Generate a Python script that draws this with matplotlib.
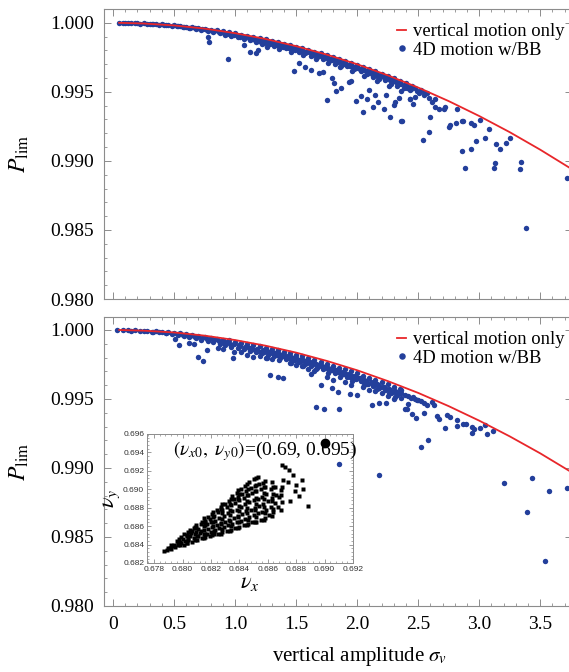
import numpy as np
import matplotlib.pyplot as plt
from matplotlib.ticker import MultipleLocator

plt.rcParams['font.family'] = ['Liberation Serif', 'DejaVu Serif']
plt.rcParams['mathtext.fontset'] = 'stix'

blue = '#233f9b'
red = '#e8262a'

# red curve: vertical motion only
curve_x = [0.05, 0.25, 0.50, 0.75, 1.00, 1.25, 1.50, 1.75, 2.00, 2.25, 2.50, 2.75, 3.00, 3.25, 3.50, 3.77]
top_curve_y = [1.00000, 0.99995, 0.99981, 0.99958, 0.99925, 0.99883, 0.99831, 0.99770,
               0.99700, 0.99620, 0.99531, 0.99433, 0.99325, 0.99208, 0.99081, 0.98934]
bot_curve_y = [1.00000, 0.99995, 0.99982, 0.99959, 0.99927, 0.99886, 0.99836, 0.99776,
               0.99708, 0.99630, 0.99544, 0.99448, 0.99343, 0.99229, 0.99106, 0.98962]

# top panel: 4D motion w/BB
top_x = [0.05, 0.08, 0.10, 0.12, 0.15, 0.18, 0.20, 0.22, 0.25, 0.28, 0.30, 0.32, 0.35, 0.38, 0.40,
         0.42, 0.45, 0.48, 0.50, 0.52, 0.55, 0.58, 0.60, 0.62, 0.65, 0.68, 0.70, 0.72, 0.75, 0.78,
         0.80, 0.82, 0.85, 0.88, 0.90, 0.92, 0.95, 0.97, 1.00, 1.02, 1.05, 1.07, 1.10, 1.12, 1.15,
         1.17, 1.20, 1.22, 1.25, 1.27, 1.30, 1.32, 1.35, 1.37, 1.40, 1.42, 1.45, 1.47, 1.50, 1.52,
         1.55, 1.57, 1.60, 1.62, 1.65, 1.67, 1.70, 1.72, 1.75, 1.77, 1.80, 1.82, 1.85, 1.87, 1.90,
         1.92, 1.95, 1.97, 2.00, 2.03, 2.05, 2.08, 2.10, 2.13, 2.15, 2.18, 2.20, 2.23, 2.25, 2.28,
         2.30, 2.33, 2.35, 2.38, 2.40, 2.43, 2.45,
         0.93, 1.03, 1.13, 1.18, 1.23, 1.28, 1.33, 1.38, 1.43, 1.48, 1.53, 1.58, 1.63, 1.68, 1.73,
         1.78, 1.83, 1.88, 1.93, 1.98, 2.02, 2.07, 2.12, 2.17, 2.22, 2.27, 2.32,
         0.79, 0.78, 0.94, 1.12, 1.17, 1.07, 1.19, 1.48, 1.75, 1.83, 1.79, 1.87, 1.93, 1.95, 1.99,
         2.03, 2.05, 2.08, 2.10, 2.13, 2.15, 2.17, 2.22, 2.24, 2.27, 2.30, 2.31, 2.34, 2.37, 2.43,
         1.69, 1.72, 1.62, 1.52, 1.57, 1.81, 2.41,
         2.36, 2.54, 2.59, 2.60, 2.46, 2.43, 2.47, 2.51, 2.55, 2.59, 2.61, 2.64, 2.64, 2.67, 2.71,
         2.72, 2.82, 2.75, 2.76, 2.81, 2.86, 2.87, 2.93, 2.96, 3.01, 2.86, 2.88, 2.93, 2.97, 3.05,
         3.08, 3.12, 3.13, 3.14, 3.17, 3.22, 3.25, 3.33, 3.34, 3.38, 3.72]
top_y = [1.00000, 1.00000, 0.99999, 0.99998, 0.99999, 0.99996, 0.99997, 0.99994, 0.99995, 0.99992,
         0.99993, 0.99988, 0.99991, 0.99985, 0.99988, 0.99982, 0.99985, 0.99978, 0.99981, 0.99974,
         0.99978, 0.99968, 0.99973, 0.99962, 0.99968, 0.99955, 0.99962, 0.99948, 0.99957, 0.99940,
         0.99951, 0.99932, 0.99945, 0.99925, 0.99938, 0.99915, 0.99930, 0.99905, 0.99924, 0.99895,
         0.99915, 0.99885, 0.99907, 0.99872, 0.99898, 0.99862, 0.99890, 0.99850, 0.99880, 0.99845,
         0.99870, 0.99835, 0.99860, 0.99822, 0.99850, 0.99815, 0.99840, 0.99800, 0.99828, 0.99790,
         0.99815, 0.99780, 0.99805, 0.99760, 0.99792, 0.99755, 0.99780, 0.99740, 0.99765, 0.99720,
         0.99752, 0.99705, 0.99740, 0.99690, 0.99725, 0.99685, 0.99710, 0.99665, 0.99695, 0.99650,
         0.99680, 0.99630, 0.99665, 0.99610, 0.99648, 0.99590, 0.99632, 0.99585, 0.99615, 0.99560,
         0.99598, 0.99540, 0.99580, 0.99530, 0.99563, 0.99510, 0.99545,
         0.99922, 0.99905, 0.99885, 0.99878, 0.99866, 0.99858, 0.99848, 0.99838, 0.99828, 0.99815,
         0.99803, 0.99792, 0.99778, 0.99768, 0.99752, 0.99738, 0.99722, 0.99708, 0.99698, 0.99680,
         0.99668, 0.99648, 0.99630, 0.99610, 0.99605, 0.99585, 0.99568,
         0.99862, 0.99899, 0.99739, 0.99790, 0.99783, 0.99841, 0.99804, 0.99652, 0.99442, 0.99507,
         0.99601, 0.99529, 0.99572, 0.99580, 0.99435, 0.99471, 0.99355, 0.99449, 0.99514, 0.99391,
         0.99478, 0.99428, 0.99377, 0.99478, 0.99319, 0.99406, 0.99428, 0.99457, 0.99290, 0.99449,
         0.99638, 0.99645, 0.99659, 0.99710, 0.99681, 0.99565, 0.99529,
         0.99290, 0.99152, 0.99210, 0.99319, 0.99413, 0.99449, 0.99464, 0.99493, 0.99500, 0.99457,
         0.99428, 0.99449, 0.99391, 0.99377, 0.99377, 0.99391, 0.99377, 0.99246, 0.99261, 0.99275,
         0.99290, 0.99290, 0.99275, 0.99261, 0.99297, 0.99072, 0.98949, 0.99087, 0.99145, 0.99167,
         0.99232, 0.98949, 0.98986, 0.99123, 0.99087, 0.99130, 0.99167, 0.98942, 0.98993, 0.98514,
         0.98877]

# more points of the dense band just under the curve (same x for both panels)
band_x = [0.33, 0.43, 0.53, 0.57, 0.63, 0.67, 0.73, 0.77, 0.83, 0.87,
          0.91, 0.96, 0.99, 1.04, 1.08, 1.11, 1.14, 1.16, 1.19, 1.21,
          1.24, 1.26, 1.29, 1.31, 1.34, 1.36, 1.39, 1.41, 1.44, 1.46,
          1.49, 1.51, 1.54, 1.56, 1.59, 1.61, 1.64, 1.66, 1.69, 1.71,
          1.74, 1.76, 1.79, 1.81, 1.84, 1.86, 1.89, 1.91, 1.94, 1.96,
          1.99, 2.01, 2.04, 2.06, 2.09, 2.11, 2.14, 2.16, 2.19, 2.21,
          2.24, 2.26, 2.29, 2.31, 2.34, 2.36, 2.39, 2.42, 2.44, 2.47,
          2.49, 2.52, 2.55, 2.57, 1.26, 1.36, 1.46, 1.56, 1.66, 1.76,
          1.86, 1.96, 2.06, 2.16, 2.26, 2.36]
top_band_y = [0.99990, 0.99983, 0.99976, 0.99971, 0.99966, 0.99960, 0.99953, 0.99947, 0.99938, 0.99932,
              0.99926, 0.99918, 0.99910, 0.99900, 0.99895, 0.99890, 0.99880, 0.99875, 0.99868, 0.99862,
              0.99856, 0.99862, 0.99850, 0.99852, 0.99838, 0.99840, 0.99828, 0.99832, 0.99818, 0.99822,
              0.99806, 0.99810, 0.99795, 0.99798, 0.99785, 0.99788, 0.99770, 0.99775, 0.99760, 0.99762,
              0.99745, 0.99748, 0.99730, 0.99735, 0.99715, 0.99720, 0.99700, 0.99705, 0.99688, 0.99690,
              0.99670, 0.99675, 0.99655, 0.99660, 0.99640, 0.99645, 0.99622, 0.99628, 0.99605, 0.99612,
              0.99595, 0.99598, 0.99575, 0.99580, 0.99555, 0.99560, 0.99545, 0.99535, 0.99520, 0.99525,
              0.99505, 0.99510, 0.99480, 0.99490, 0.99825, 0.99808, 0.99790, 0.99765, 0.99740, 0.99710,
              0.99680, 0.99650, 0.99615, 0.99575, 0.99545, 0.99505]
bot_band_y = [0.99988, 0.99980, 0.99972, 0.99965, 0.99958, 0.99952, 0.99945, 0.99935, 0.99925, 0.99918,
              0.99912, 0.99900, 0.99895, 0.99882, 0.99880, 0.99870, 0.99862, 0.99855, 0.99850, 0.99842,
              0.99838, 0.99845, 0.99830, 0.99835, 0.99820, 0.99825, 0.99810, 0.99815, 0.99798, 0.99805,
              0.99785, 0.99792, 0.99775, 0.99780, 0.99762, 0.99768, 0.99750, 0.99755, 0.99738, 0.99742,
              0.99722, 0.99728, 0.99708, 0.99712, 0.99692, 0.99698, 0.99678, 0.99682, 0.99662, 0.99668,
              0.99645, 0.99652, 0.99630, 0.99635, 0.99612, 0.99620, 0.99598, 0.99605, 0.99585, 0.99590,
              0.99572, 0.99575, 0.99552, 0.99558, 0.99540, 0.99545, 0.99530, 0.99520, 0.99510, 0.99500,
              0.99490, 0.99482, 0.99470, 0.99460, 0.99800, 0.99780, 0.99760, 0.99740, 0.99715, 0.99690,
              0.99660, 0.99630, 0.99600, 0.99570, 0.99540, 0.99505]

# bottom panel: 4D motion w/BB
bot_x = [0.03, 0.08, 0.12, 0.15, 0.18, 0.22, 0.25, 0.28, 0.32, 0.35, 0.38, 0.40, 0.43, 0.45, 0.48,
         0.50, 0.53, 0.55, 0.58, 0.60, 0.62, 0.65, 0.68, 0.70, 0.72, 0.75, 0.78, 0.80, 0.82, 0.85,
         0.88, 0.90, 0.92, 0.95, 0.97, 1.00, 1.02, 1.05, 1.07, 1.10, 1.12, 1.15, 1.17, 1.20, 1.22,
         1.25, 1.27, 1.30, 1.32, 1.35, 1.37, 1.40, 1.42, 1.45, 1.47, 1.50, 1.52, 1.55, 1.57, 1.60,
         1.62, 1.65, 1.67, 1.70, 1.72, 1.75, 1.77, 1.80, 1.82, 1.85, 1.87, 1.90, 1.92, 1.95, 1.97,
         2.00, 2.03, 2.05, 2.08, 2.10, 2.13, 2.15, 2.18, 2.20, 2.23, 2.25, 2.28, 2.30, 2.33, 2.35,
         0.93, 1.03, 1.13, 1.18, 1.23, 1.28, 1.33, 1.38, 1.43, 1.48, 1.53, 1.58, 1.63, 1.68, 1.73,
         1.78, 1.83, 1.88, 1.93, 1.98, 2.02, 2.07, 2.12, 2.17, 2.22, 2.27, 2.32,
         0.86, 0.90, 0.62, 0.66, 1.05, 1.20, 1.25, 1.30, 1.45, 1.50, 1.55, 1.60, 1.65, 1.62, 1.75,
         1.80, 1.90, 1.95, 2.05, 2.15, 2.20, 2.25, 2.30,
         0.54, 0.70, 0.74, 0.98, 0.77, 0.51, 0.99, 1.10, 1.15,
         1.29, 1.35, 1.39, 1.66, 1.73, 1.85, 1.94, 2.00, 1.70, 1.79, 1.84, 2.12, 2.18, 2.24, 2.10,
         2.31, 2.41, 2.18,
         2.36, 2.46, 2.50, 2.61, 2.63, 2.39, 2.42, 2.45, 2.48, 2.55, 2.65, 2.67, 2.72, 2.74, 2.76,
         2.82, 2.82, 2.87, 2.89, 2.94, 2.94, 2.96, 3.01, 3.05, 3.06, 3.11, 2.52, 2.58, 3.20, 3.43,
         3.39, 3.57, 3.72, 3.54]
bot_y = [1.00000, 0.99999, 0.99998, 0.99996, 0.99997, 0.99994, 0.99992, 0.99993, 0.99986, 0.99990,
         0.99982, 0.99987, 0.99975, 0.99984, 0.99970, 0.99978, 0.99962, 0.99975, 0.99955, 0.99970,
         0.99948, 0.99965, 0.99940, 0.99958, 0.99930, 0.99952, 0.99920, 0.99945, 0.99910, 0.99938,
         0.99900, 0.99930, 0.99888, 0.99925, 0.99878, 0.99915, 0.99870, 0.99908, 0.99860, 0.99900,
         0.99850, 0.99890, 0.99842, 0.99882, 0.99832, 0.99872, 0.99822, 0.99862, 0.99810, 0.99852,
         0.99800, 0.99842, 0.99790, 0.99830, 0.99778, 0.99820, 0.99765, 0.99808, 0.99755, 0.99795,
         0.99740, 0.99782, 0.99728, 0.99770, 0.99715, 0.99755, 0.99700, 0.99742, 0.99688, 0.99728,
         0.99672, 0.99715, 0.99660, 0.99700, 0.99645, 0.99685, 0.99628, 0.99670, 0.99612, 0.99655,
         0.99595, 0.99640, 0.99580, 0.99622, 0.99562, 0.99605, 0.99545, 0.99588, 0.99530, 0.99570,
         0.99910, 0.99890, 0.99872, 0.99860, 0.99852, 0.99842, 0.99832, 0.99820, 0.99810, 0.99798,
         0.99786, 0.99775, 0.99762, 0.99748, 0.99735, 0.99720, 0.99708, 0.99692, 0.99680, 0.99665,
         0.99650, 0.99632, 0.99615, 0.99600, 0.99585, 0.99565, 0.99550,
         0.99868, 0.99860, 0.99905, 0.99895, 0.99838, 0.99810, 0.99795, 0.99788, 0.99762, 0.99745,
         0.99738, 0.99720, 0.99700, 0.99680, 0.99660, 0.99640, 0.99620, 0.99600, 0.99590, 0.99560,
         0.99540, 0.99520, 0.99500,
         0.99891, 0.99804, 0.99775, 0.99797, 0.99855, 0.99935, 0.99841, 0.99819, 0.99804,
         0.99674, 0.99659, 0.99652, 0.99442, 0.99428, 0.99428, 0.99536, 0.99529, 0.99601, 0.99580,
         0.99551, 0.99457, 0.99471, 0.99471, 0.99565, 0.99514, 0.99428, 0.98949,
         0.99565, 0.99514, 0.99493, 0.99478, 0.99457, 0.99428, 0.99464, 0.99391, 0.99362, 0.99399,
         0.99377, 0.99355, 0.99290, 0.99384, 0.99370, 0.99348, 0.99304, 0.99319, 0.99319, 0.99297,
         0.99254, 0.99283, 0.99290, 0.99312, 0.99246, 0.99268, 0.99152, 0.99203, 0.98891, 0.98928,
         0.98681, 0.98833, 0.98855, 0.98326]
# the one bottom-panel point that sits on top of the inset
bot_front_x = [1.85]
bot_front_y = [0.99029]

# inset: tune footprint nu_x, nu_y
nux = [0.6787, 0.6789, 0.6790, 0.6792, 0.6793, 0.6794, 0.6795, 0.6797, 0.6796, 0.6798,
       0.6799, 0.6800, 0.6799, 0.6801, 0.6802, 0.6803, 0.6801, 0.6803,
       0.6804, 0.6805, 0.6806, 0.6805, 0.6807, 0.6808, 0.6809, 0.6807, 0.6809, 0.6808,
       0.6810, 0.6811, 0.6812, 0.6811, 0.6813, 0.6814, 0.6815, 0.6813, 0.6815, 0.6814,
       0.6816, 0.6817, 0.6818, 0.6817, 0.6816, 0.6818, 0.6819, 0.6820, 0.6821, 0.6820,
       0.6819, 0.6821, 0.6822, 0.6823, 0.6824, 0.6823, 0.6822, 0.6824, 0.6825, 0.6826,
       0.6827, 0.6826, 0.6825, 0.6827, 0.6828, 0.6829, 0.6830, 0.6829, 0.6828, 0.6830,
       0.6831, 0.6832, 0.6833, 0.6832, 0.6831, 0.6833, 0.6834, 0.6835, 0.6836, 0.6835,
       0.6834, 0.6836, 0.6835, 0.6837, 0.6838, 0.6839, 0.6838, 0.6837, 0.6839, 0.6838,
       0.6840, 0.6841, 0.6842, 0.6841, 0.6840, 0.6842, 0.6841, 0.6843, 0.6844, 0.6845,
       0.6844, 0.6843, 0.6845, 0.6844, 0.6846, 0.6847, 0.6848, 0.6847, 0.6846, 0.6848,
       0.6847, 0.6849, 0.6850, 0.6851, 0.6850, 0.6849, 0.6851, 0.6850, 0.6852, 0.6853,
       0.6854, 0.6853, 0.6852, 0.6854, 0.6853, 0.6855, 0.6856, 0.6857, 0.6856, 0.6855,
       0.6857, 0.6858, 0.6859, 0.6860, 0.6859, 0.6858, 0.6861, 0.6862, 0.6863, 0.6862,
       0.6864, 0.6865, 0.6866, 0.6865, 0.6867, 0.6868, 0.6869,
       0.6872, 0.6875, 0.6870, 0.6878, 0.6876, 0.6880, 0.6884, 0.6885, 0.6882, 0.6888,
       0.6879, 0.6871, 0.6874,
       0.67912, 0.67918,
       0.67971, 0.67979, 0.67974,
       0.68031, 0.68039, 0.68033, 0.68037,
       0.68091, 0.68099, 0.68093, 0.68097, 0.68095,
       0.68151, 0.68159, 0.68153, 0.68157, 0.68155, 0.68152,
       0.68211, 0.68219, 0.68213, 0.68217, 0.68215, 0.68212,
       0.68271, 0.68279, 0.68273, 0.68277, 0.68275, 0.68272, 0.68278,
       0.68331, 0.68339, 0.68333, 0.68337, 0.68335, 0.68332, 0.68338,
       0.68391, 0.68399, 0.68393, 0.68397, 0.68395, 0.68392, 0.68398, 0.68394,
       0.68451, 0.68459, 0.68453, 0.68457, 0.68455, 0.68452, 0.68458, 0.68454,
       0.68511, 0.68519, 0.68513, 0.68517, 0.68515, 0.68512, 0.68518, 0.68514,
       0.68571, 0.68579, 0.68573, 0.68577, 0.68575, 0.68572, 0.68578,
       0.68631, 0.68639, 0.68633, 0.68637, 0.68635, 0.68632,
       0.68691, 0.68699, 0.68693, 0.68697]
nuy = [0.6833, 0.6834, 0.6836, 0.6835, 0.6838, 0.6840, 0.6837, 0.6841, 0.6844, 0.6839,
       0.6842, 0.6846, 0.6848, 0.6840, 0.6844, 0.6849, 0.6852, 0.6842,
       0.6845, 0.6849, 0.6853, 0.6856, 0.6843, 0.6847, 0.6851, 0.6855, 0.6859, 0.6858,
       0.6845, 0.6849, 0.6853, 0.6857, 0.6862, 0.6847, 0.6851, 0.6855, 0.6860, 0.6865,
       0.6848, 0.6852, 0.6857, 0.6862, 0.6866, 0.6870, 0.6849, 0.6854, 0.6859, 0.6864,
       0.6868, 0.6873, 0.6851, 0.6856, 0.6861, 0.6866, 0.6871, 0.6877, 0.6852, 0.6858,
       0.6863, 0.6869, 0.6875, 0.6881, 0.6854, 0.6859, 0.6865, 0.6871, 0.6877, 0.6884,
       0.6855, 0.6861, 0.6867, 0.6874, 0.6881, 0.6887, 0.6856, 0.6862, 0.6869, 0.6876,
       0.6883, 0.6890, 0.6893, 0.6858, 0.6864, 0.6871, 0.6878, 0.6885, 0.6892, 0.6896,
       0.6859, 0.6866, 0.6873, 0.6881, 0.6888, 0.6895, 0.6900, 0.6861, 0.6868, 0.6876,
       0.6884, 0.6891, 0.6898, 0.6904, 0.6862, 0.6870, 0.6878, 0.6886, 0.6894, 0.6901,
       0.6908, 0.6864, 0.6872, 0.6880, 0.6888, 0.6896, 0.6904, 0.6911, 0.6865, 0.6874,
       0.6882, 0.6890, 0.6898, 0.6906, 0.6913, 0.6867, 0.6875, 0.6884, 0.6892, 0.6900,
       0.6907, 0.6869, 0.6878, 0.6887, 0.6895, 0.6903, 0.6872, 0.6881, 0.6891, 0.6900,
       0.6875, 0.6885, 0.6894, 0.6903, 0.6881, 0.6892, 0.6899,
       0.6924, 0.6921, 0.6926, 0.6915, 0.6887, 0.6905, 0.6910, 0.6900, 0.6893, 0.6882,
       0.6898, 0.6910, 0.6908,
       0.6836, 0.6839,
       0.6839, 0.6843, 0.6846,
       0.6842, 0.6846, 0.6850, 0.6854,
       0.6845, 0.6849, 0.6854, 0.6858, 0.6861,
       0.6847, 0.6851, 0.6856, 0.6861, 0.6865, 0.6869,
       0.6850, 0.6855, 0.6860, 0.6865, 0.6870, 0.6875,
       0.6852, 0.6857, 0.6862, 0.6868, 0.6874, 0.6879, 0.6884,
       0.6855, 0.6860, 0.6866, 0.6872, 0.6878, 0.6884, 0.6890,
       0.6858, 0.6864, 0.6870, 0.6876, 0.6882, 0.6889, 0.6895, 0.6899,
       0.6861, 0.6867, 0.6874, 0.6880, 0.6887, 0.6894, 0.6900, 0.6906,
       0.6864, 0.6870, 0.6877, 0.6884, 0.6891, 0.6898, 0.6905, 0.6912,
       0.6867, 0.6874, 0.6881, 0.6889, 0.6896, 0.6903, 0.6909,
       0.6871, 0.6879, 0.6887, 0.6895, 0.6902, 0.6908,
       0.6877, 0.6886, 0.6894, 0.6903]
nu0 = (0.690, 0.695)


def style_axes(ax, ylim):
    ax.set_xlim(-0.074, 3.76)
    ax.set_ylim(*ylim)
    ax.xaxis.set_major_locator(MultipleLocator(0.5))
    ax.xaxis.set_minor_locator(MultipleLocator(0.1))
    ax.yaxis.set_major_locator(MultipleLocator(0.005))
    ax.yaxis.set_minor_locator(MultipleLocator(0.001))
    ax.tick_params(which='both', direction='in', top=True, right=True, color='#8c8c8c',
                   labelsize=14, pad=7)
    ax.tick_params(which='major', length=5, width=0.7)
    ax.tick_params(which='minor', length=2.5, width=0.6)
    for s in ax.spines.values():
        s.set_color('#8c8c8c')
        s.set_linewidth(0.8)
    ax.yaxis.set_major_formatter(plt.FuncFormatter(lambda v, p: '%.3f' % v))
    ax.set_ylabel(r'$P_{\rm lim}$', fontsize=17, labelpad=14)


fig = plt.figure(figsize=(5.69, 6.72), dpi=100)
W, H = 569.0, 672.0
ax1 = fig.add_axes([104 / W, 1 - 299 / H, 468 / W, 290 / H])
ax2 = fig.add_axes([104 / W, 1 - 606 / H, 468 / W, 289 / H])

for ax, px, py, by, cy, yl, ly in [
        (ax1, top_x, top_y, top_band_y, top_curve_y, (0.980, 1.001), 1 - 23 / H),
        (ax2, bot_x, bot_y, bot_band_y, bot_curve_y, (0.980, 1.00094), 1 - 331 / H)]:
    ax.plot(px, py, 'o', ms=3.9, color=blue, mec='none', zorder=2, label='4D motion w/BB')
    ax.plot(band_x, by, 'o', ms=3.9, color=blue, mec='none', zorder=2)
    ax.plot(curve_x, cy, '-', color=red, lw=1.3, zorder=3, label='vertical motion only')
    style_axes(ax, yl)
    h, l = ax.get_legend_handles_labels()
    fig.legend([h[1], h[0]], [l[1], l[0]], loc='upper left', bbox_to_anchor=(397 / W, ly),
               frameon=False, fontsize=13.4, handlelength=0.5, handletextpad=0.35,
               labelspacing=0.08, borderpad=0, borderaxespad=0, markerscale=1.2)

ax1.tick_params(labelbottom=False)
ax2.set_xticks([0, 0.5, 1.0, 1.5, 2.0, 2.5, 3.0, 3.5])
ax2.set_xticklabels(['0', '0.5', '1.0', '1.5', '2.0', '2.5', '3.0', '3.5'])
fig.text(360 / W, 1 - 656 / H, r'vertical amplitude $\sigma_v$', fontsize=15,
         ha='center', va='center')

# inset
axi = fig.add_axes([147 / W, 1 - 563 / H, 206 / W, 129 / H])
axi.plot(nux, nuy, 's', ms=2.2, color='black', mec='none')
axi.plot([nu0[0]], [nu0[1]], 'o', ms=6, color='black')
axi.plot(bot_front_x, bot_front_y, 'o', ms=3.9, color=blue, mec='none',
         transform=ax2.transData, clip_on=False)
axi.set_xlim(0.6775, 0.6920)
axi.set_ylim(0.682, 0.696)
axi.xaxis.set_major_locator(MultipleLocator(0.002))
axi.xaxis.set_minor_locator(MultipleLocator(0.0004))
axi.yaxis.set_major_locator(MultipleLocator(0.002))
axi.yaxis.set_minor_locator(MultipleLocator(0.0004))
axi.xaxis.set_major_formatter(plt.FuncFormatter(lambda v, p: '%.3f' % v))
axi.yaxis.set_major_formatter(plt.FuncFormatter(lambda v, p: '%.3f' % v))
axi.tick_params(which='both', direction='in', top=True, right=True, color='#8c8c8c', pad=2)
axi.tick_params(which='major', length=3, width=0.6)
axi.tick_params(which='minor', length=1.5, width=0.5)
for lab in axi.get_xticklabels() + axi.get_yticklabels():
    lab.set_fontfamily('Liberation Sans')
    lab.set_fontsize(6)
    lab.set_color('#333333')
for s in axi.spines.values():
    s.set_color('#8c8c8c')
    s.set_linewidth(0.7)
axi.set_xlabel(r'$\nu_x$', fontsize=16, labelpad=1)
axi.set_ylabel(r'$\nu_y$', fontsize=16, labelpad=1)
axi.text(0.125, 0.87, r'$(\nu_{x0},\ \nu_{y0})$=(0.69, 0.695)', transform=axi.transAxes,
         fontsize=14, ha='left', va='center')

fig.savefig('out.png', dpi=100)
